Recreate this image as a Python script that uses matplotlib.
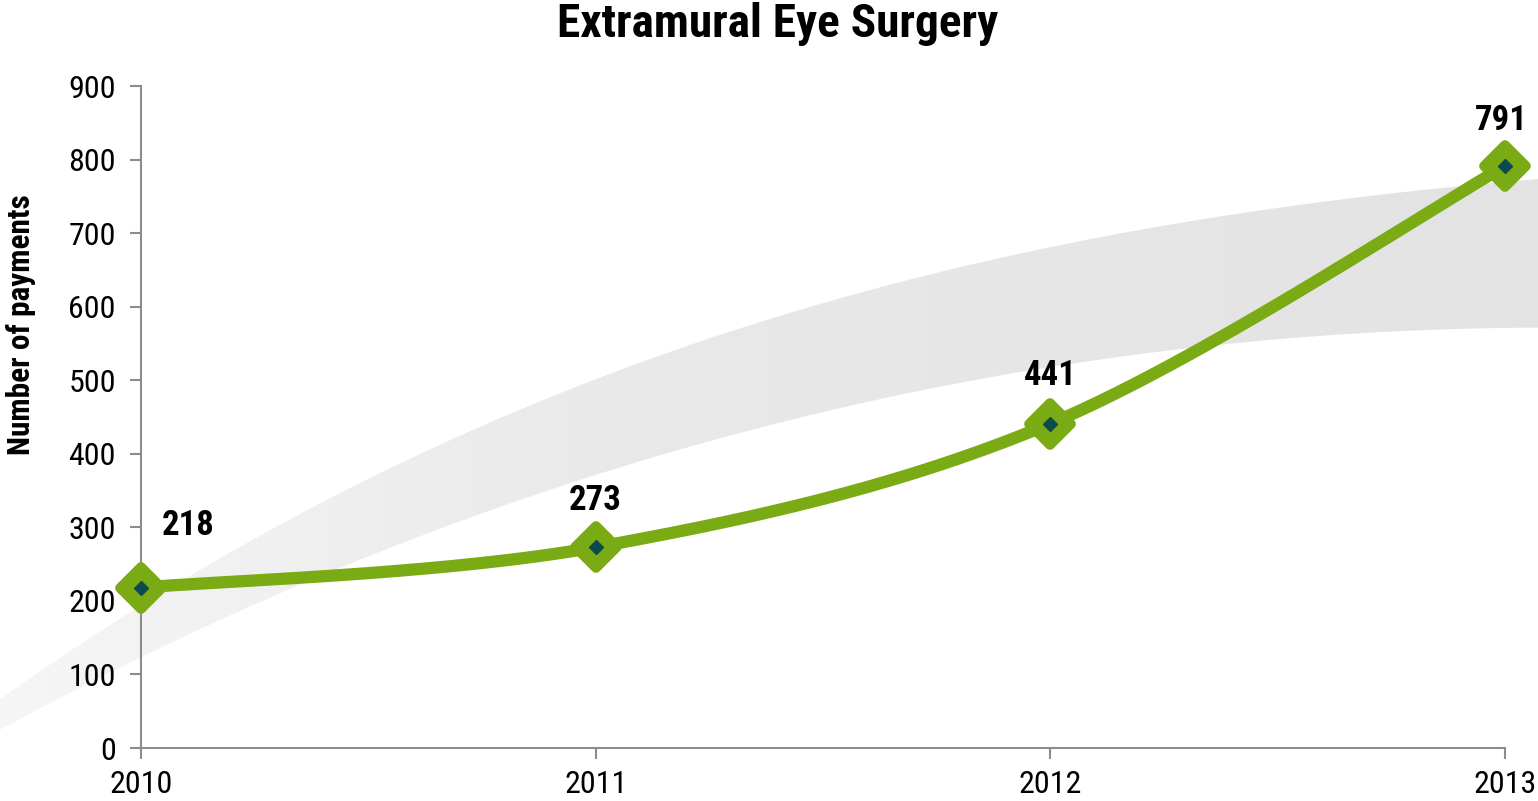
import numpy as np
import matplotlib
matplotlib.use("Agg")
import matplotlib.pyplot as plt
from matplotlib.path import Path
from matplotlib.patches import PathPatch
from matplotlib.markers import MarkerStyle
from matplotlib import font_manager

years = [2010, 2011, 2012, 2013]
payments = [218, 273, 441, 791]
title = "Extramural Eye Surgery"
ylabel = "Number of payments"
yticks = [0, 100, 200, 300, 400, 500, 600, 700, 800, 900]

weights = {}
for f in font_manager.fontManager.ttflist:
    w = f.weight if isinstance(f.weight, int) else {"bold": 700, "normal": 400}.get(f.weight, 400)
    weights.setdefault(f.name, set()).add(w)
prefs = ["Liberation Sans Narrow", "Arial Narrow", "Roboto Condensed", "PT Sans Narrow",
         "Archivo Narrow", "Fira Sans Condensed", "Pragati Narrow", "Liberation Sans"]
chosen = "DejaVu Sans"
for p in prefs:
    ws = weights.get(p, set())
    if 700 in ws and 400 in ws:
        chosen = p
        break
plt.rcParams["font.family"] = [chosen, "DejaVu Sans"]

W, H = 1538, 801
fig = plt.figure(figsize=(W / 100, H / 100), dpi=100)

# background decorative swoosh, defined in figure pixel coordinates
bg = fig.add_axes([0, 0, 1, 1], zorder=0)
bg.set_xlim(0, W)
bg.set_ylim(H, 0)
bg.axis("off")

up_x = [0, 233, 400, 600, 900, 1300, 1538]
up_y = [700, 550, 460, 382, 282, 203, 180]
lo_x = [0, 141, 300, 500, 800, 900, 1300, 1538]
lo_y = [730, 657, 583, 510, 417, 393, 339, 327]
xs = np.linspace(-40, W + 40, 300)
uy = np.polyval(np.polyfit(up_x, up_y, 3), xs)
ly = np.polyval(np.polyfit(lo_x, lo_y, 3), xs)
poly = np.vstack([np.column_stack([xs, uy]), np.column_stack([xs[::-1], ly[::-1]])])
patch = PathPatch(Path(poly, closed=True), facecolor="none", edgecolor="none")
bg.add_patch(patch)
grad = np.linspace(0, 1, 256)[None, :]
cmap = matplotlib.colors.LinearSegmentedColormap.from_list(
    "g", [(0, "#f6f6f6"), (0.4, "#e9e9e9"), (1, "#e3e3e3")])
im = bg.imshow(grad, extent=(0, W, H, 0), aspect="auto", cmap=cmap, zorder=1)
im.set_clip_path(patch)

left, right = 141 / W, 1505 / W
bottom, top = (H - 748) / H, (H - 86) / H
ax = fig.add_axes([left, bottom, right - left, top - bottom], zorder=2)
ax.patch.set_alpha(0)
ax.set_xlim(years[0], years[-1])
ax.set_ylim(0, 900)
for s in ["top", "right"]:
    ax.spines[s].set_visible(False)
for s in ["left", "bottom"]:
    ax.spines[s].set_color("#8c8c8c")
    ax.spines[s].set_linewidth(1.5)
ax.set_yticks(yticks)
ax.set_xticks(years)
ax.set_xticklabels([str(y) for y in years])
ax.tick_params(axis="both", colors="#8c8c8c", length=8, width=1.5, labelsize=23,
               labelcolor="black")
ax.tick_params(axis="x", pad=8)
ax.tick_params(axis="y", pad=10)

# Excel-like smoothed line in display-proportional space
sx = (1505 - 141) / (years[-1] - years[0])
sy = (748 - 86) / 900
P = np.column_stack([np.array(years, float) * sx, np.array(payments, float) * sy])
n = len(P)
curve = []
for i in range(n - 1):
    p0 = P[max(i - 1, 0)]
    p1 = P[i]
    p2 = P[i + 1]
    p3 = P[min(i + 2, n - 1)]
    c1 = p1 + (p2 - p0) / 6
    c2 = p2 - (p3 - p1) / 6
    t = np.linspace(0, 1, 60)[:, None]
    seg = (1 - t) ** 3 * p1 + 3 * (1 - t) ** 2 * t * c1 + 3 * (1 - t) * t ** 2 * c2 + t ** 3 * p2
    curve.append(seg if i == 0 else seg[1:])
curve = np.vstack(curve)
green = "#7bab14"
ax.plot(curve[:, 0] / sx, curve[:, 1] / sy, color=green, lw=8.8, solid_capstyle="round",
        zorder=3, clip_on=False)
ax.plot(years, payments, linestyle="none", marker=MarkerStyle("D", joinstyle="round"),
        markersize=21, markerfacecolor=green, markeredgecolor=green, markeredgewidth=7,
        zorder=4, clip_on=False)
ax.plot(years, payments, linestyle="none", marker="D", markersize=7,
        markerfacecolor="#0c4a4c", markeredgecolor="#0c4a4c", zorder=5, clip_on=False)

offsets = [(47, 62), (0, 47), (0, 48), (-4, 46)]
for (x, y), off in zip(zip(years, payments), offsets):
    ax.annotate(str(y), (x, y), xytext=off, textcoords="offset pixels",
                ha="center", va="center", fontsize=25, fontweight="bold", zorder=6)

fig.text(778 / W, 1 - 24 / H, title, ha="center", va="center", fontsize=34, fontweight="bold")
fig.text(21 / W, 1 - 325 / H, ylabel, ha="center", va="center", rotation=90,
         fontsize=22.5, fontweight="bold")

fig.savefig("out.png", dpi=100)
